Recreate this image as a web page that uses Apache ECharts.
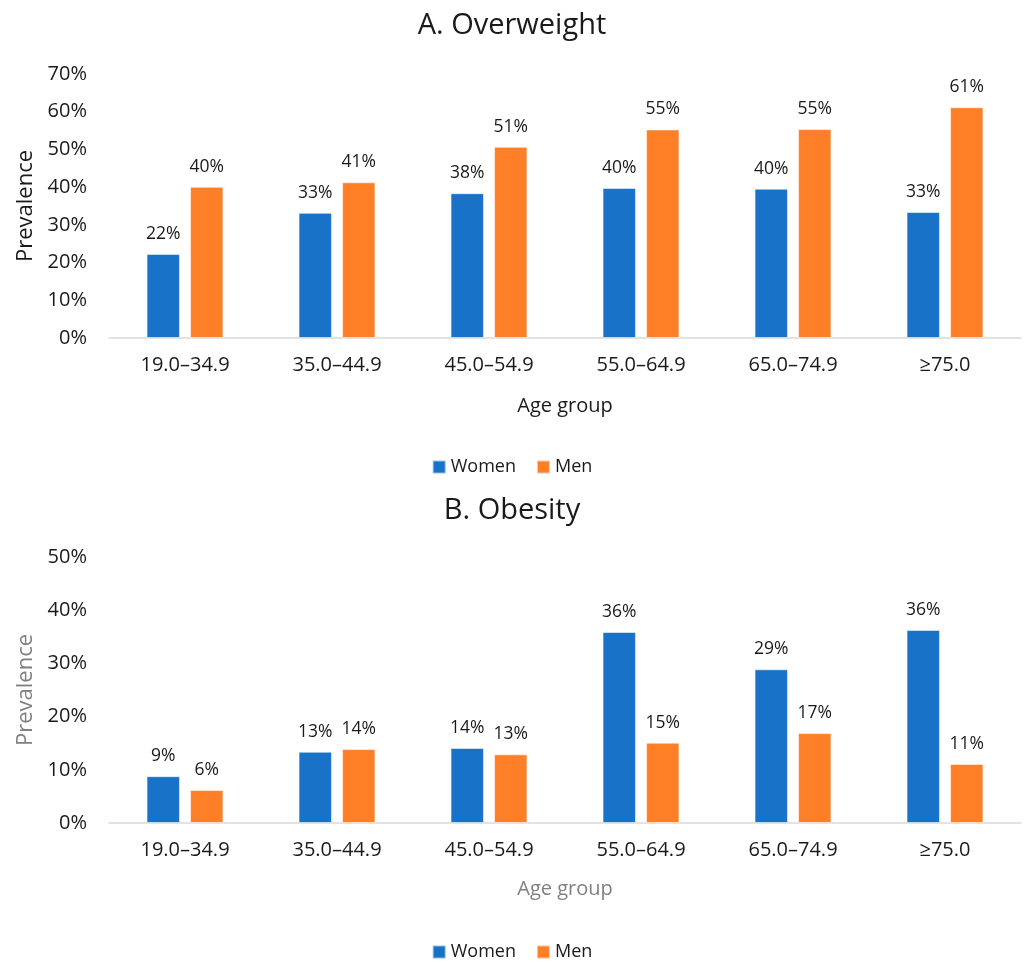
<!DOCTYPE html>
<html>
<head>
<meta charset="utf-8">
<script src="https://cdn.jsdelivr.net/npm/echarts@6/dist/echarts.min.js"></script>
<style>
  html, body { margin: 0; padding: 0; background: #fff; }
  #chart { width: 1024px; height: 963px; }
</style>
</head>
<body>
<div id="chart"></div>
<script>
// Age groups shared by both panels
const ageGroups = ['19.0–34.9', '35.0–44.9', '45.0–54.9', '55.0–64.9', '65.0–74.9', '≥75.0'];

// Panel A: overweight prevalence (%)
const overweightWomen = [22.3, 33.2, 38.4, 39.8, 39.6, 33.4];
const overweightMen   = [40.1, 41.3, 50.7, 55.3, 55.4, 61.2];

// Panel B: obesity prevalence (%)
const obesityWomen = [8.8, 13.4, 14.1, 35.9, 28.9, 36.3];
const obesityMen   = [6.2, 13.9, 12.9, 15.1, 16.9, 11.1];

const FONT = 'Open Sans';
const BLUE = '#1872C7';
const ORANGE = '#FF7F27';
const TEXT = '#1a1a1a';
const GREY = '#808080';

function pct(v) { return v + '%'; }

function barSeries(name, color, data, axisIndex) {
  return {
    name: name,
    type: 'bar',
    xAxisIndex: axisIndex,
    yAxisIndex: axisIndex,
    data: data,
    barWidth: '22%',
    barGap: '30%',
    itemStyle: { color: color, borderColor: 'rgba(255,255,255,0.55)', borderWidth: 1 },
    label: {
      show: true,
      position: 'top',
      distance: 11,
      color: TEXT,
      fontFamily: FONT,
      fontSize: 17.5,
      formatter: p => Math.round(p.value) + '%'
    }
  };
}

function catAxis(idx, nameColor, gap) {
  return {
    type: 'category',
    gridIndex: idx,
    data: ageGroups,
    name: 'Age group',
    nameLocation: 'middle',
    nameGap: gap,
    nameTextStyle: { color: nameColor, fontFamily: FONT, fontSize: 20 },
    axisLine: { lineStyle: { color: '#d9d9d9', width: 1.5 } },
    axisTick: { show: false },
    axisLabel: { color: TEXT, fontFamily: FONT, fontSize: 20, margin: 17 }
  };
}

function valAxis(idx, max, nameColor) {
  return {
    type: 'value',
    gridIndex: idx,
    min: 0,
    max: max,
    interval: 10,
    name: 'Prevalence',
    nameLocation: 'middle',
    nameGap: 68,
    nameTextStyle: { color: nameColor, fontFamily: FONT, fontSize: 22 },
    axisLine: { show: false },
    axisTick: { show: false },
    splitLine: { show: false },
    axisLabel: { color: TEXT, fontFamily: FONT, fontSize: 20, margin: 22, formatter: pct }
  };
}

function legendAt(top) {
  return {
    data: ['Women', 'Men'], top: top, left: 'center',
    itemWidth: 13, itemHeight: 13, itemGap: 20, icon: 'rect',
    textStyle: { fontFamily: FONT, fontSize: 18, color: TEXT },
    selectedMode: false
  };
}

const chart = echarts.init(document.getElementById('chart'), null, { renderer: 'canvas' });
chart.setOption({
  animation: false,
  backgroundColor: '#ffffff',
  title: [
    { text: 'A. Overweight', left: 'center', top: 6,
      textStyle: { fontFamily: FONT, fontSize: 29, fontWeight: 'normal', color: TEXT } },
    { text: 'B. Obesity', left: 'center', top: 491,
      textStyle: { fontFamily: FONT, fontSize: 29, fontWeight: 'normal', color: TEXT } }
  ],
  legend: [legendAt(453), legendAt(938)],
  grid: [
    { left: 109, right: 3, top: 74, height: 264 },
    { left: 109, right: 3, top: 557, height: 266 }
  ],
  xAxis: [catAxis(0, TEXT, 58), catAxis(1, GREY, 56)],
  yAxis: [valAxis(0, 70, TEXT), valAxis(1, 50, GREY)],
  series: [
    barSeries('Women', BLUE, overweightWomen, 0),
    barSeries('Men', ORANGE, overweightMen, 0),
    barSeries('Women', BLUE, obesityWomen, 1),
    barSeries('Men', ORANGE, obesityMen, 1)
  ]
});
</script>
</body>
</html>
